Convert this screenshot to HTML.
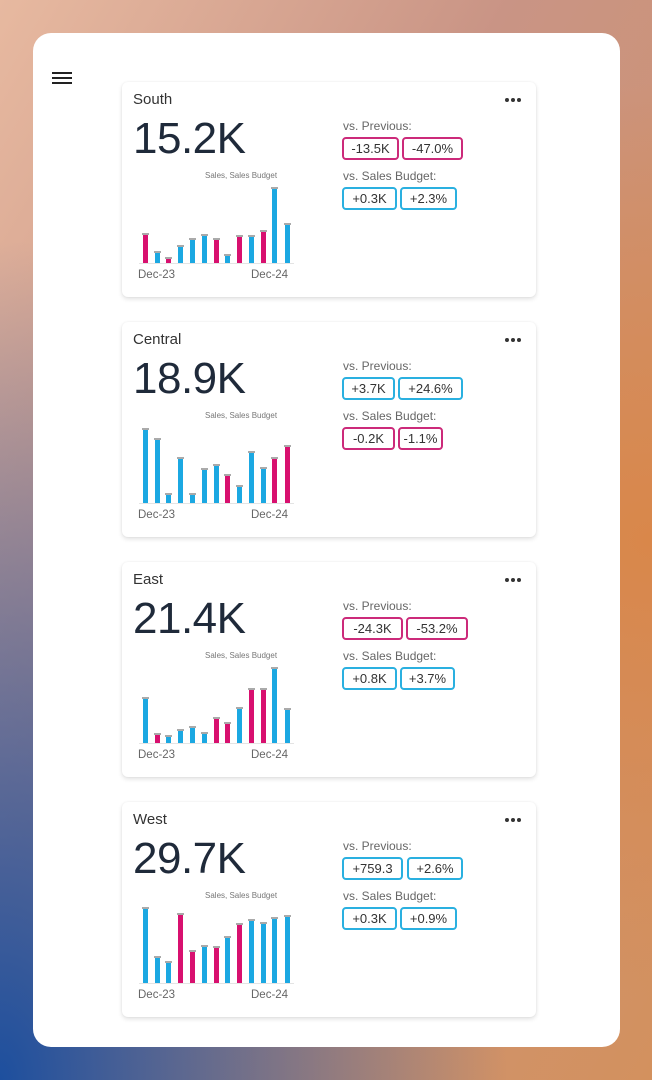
<!DOCTYPE html>
<html><head><style>
*{margin:0;padding:0;box-sizing:border-box}
body{width:652px;height:1080px;overflow:hidden;position:relative;font-family:"Liberation Sans",sans-serif;
background:radial-gradient(ellipse at 100% 50%,#d9874a 0%,rgba(217,135,74,0) 60%),radial-gradient(ellipse at 0% 100%,#1d4f9e 0%,rgba(29,79,158,0) 55%),linear-gradient(120deg,#e7b9a0 0%,#c99485 40%,#d3915e 100%);}
.panel{position:absolute;left:33px;top:33px;width:587px;height:1014px;background:#fff;border-radius:18px}
.ham{position:absolute;left:52px;top:72px;width:20px;height:2px;background:#222;box-shadow:0 5px 0 #222,0 10px 0 #222}
.card{position:absolute;left:122px;width:414px;height:215px;background:#fff;border-radius:6px;box-shadow:0 2px 5px rgba(0,0,0,.12),0 0 2px rgba(0,0,0,.06)}
.t{position:absolute;left:11px;top:9px;font-size:15px;color:#333}
.big{position:absolute;left:11px;top:32px;font-size:44px;color:#1f2a3a;letter-spacing:-0.5px}
.dots{position:absolute;left:383px;top:16px;width:18px;height:4px}
.dots i{position:absolute;top:0;width:4px;height:4px;border-radius:50%;background:#333}
.lbl{position:absolute;left:221px;font-size:12px;color:#666}
.b{position:absolute;height:23px;border:2px solid;border-radius:4px;font-size:13px;color:#333;text-align:center;line-height:19px}
.p{border-color:#cc2a7a}.c{border-color:#2ab0e0}
.sl{position:absolute;left:83px;top:89px;font-size:8px;color:#777}
.x{position:absolute;top:187px;font-size:11.5px;color:#666}
svg{position:absolute;left:0;top:0}
</style></head><body>
<div class="panel"></div><div class="ham"></div>

<div class="card" style="top:82px"><div class="t">South</div><div class="big">15.2K</div><div class="dots"><i style="left:0"></i><i style="left:6px"></i><i style="left:12px"></i></div>
<div class="lbl" style="top:37px">vs. Previous:</div><div class="b p" style="left:220px;top:55px;width:57px">-13.5K</div><div class="b p" style="left:280px;top:55px;width:61px">-47.0%</div>
<div class="lbl" style="top:87px">vs. Sales Budget:</div><div class="b c" style="left:220px;top:105px;width:55px">+0.3K</div><div class="b c" style="left:278px;top:105px;width:57px">+2.3%</div>
<div class="sl">Sales, Sales Budget</div><div class="x" style="left:16px">Dec-23</div><div class="x" style="left:129px">Dec-24</div>
<svg width="414" height="215" id="s1"></svg></div>

<div class="card" style="top:322px"><div class="t">Central</div><div class="big">18.9K</div><div class="dots"><i style="left:0"></i><i style="left:6px"></i><i style="left:12px"></i></div>
<div class="lbl" style="top:37px">vs. Previous:</div><div class="b c" style="left:220px;top:55px;width:53px">+3.7K</div><div class="b c" style="left:276px;top:55px;width:65px">+24.6%</div>
<div class="lbl" style="top:87px">vs. Sales Budget:</div><div class="b p" style="left:220px;top:105px;width:53px">-0.2K</div><div class="b p" style="left:276px;top:105px;width:45px">-1.1%</div>
<div class="sl">Sales, Sales Budget</div><div class="x" style="left:16px">Dec-23</div><div class="x" style="left:129px">Dec-24</div>
<svg width="414" height="215" id="s2"></svg></div>

<div class="card" style="top:562px"><div class="t">East</div><div class="big">21.4K</div><div class="dots"><i style="left:0"></i><i style="left:6px"></i><i style="left:12px"></i></div>
<div class="lbl" style="top:37px">vs. Previous:</div><div class="b p" style="left:220px;top:55px;width:61px">-24.3K</div><div class="b p" style="left:284px;top:55px;width:62px">-53.2%</div>
<div class="lbl" style="top:87px">vs. Sales Budget:</div><div class="b c" style="left:220px;top:105px;width:55px">+0.8K</div><div class="b c" style="left:278px;top:105px;width:55px">+3.7%</div>
<div class="sl">Sales, Sales Budget</div><div class="x" style="left:16px">Dec-23</div><div class="x" style="left:129px">Dec-24</div>
<svg width="414" height="215" id="s3"></svg></div>

<div class="card" style="top:802px"><div class="t">West</div><div class="big">29.7K</div><div class="dots"><i style="left:0"></i><i style="left:6px"></i><i style="left:12px"></i></div>
<div class="lbl" style="top:37px">vs. Previous:</div><div class="b c" style="left:220px;top:55px;width:61px">+759.3</div><div class="b c" style="left:285px;top:55px;width:56px">+2.6%</div>
<div class="lbl" style="top:87px">vs. Sales Budget:</div><div class="b c" style="left:220px;top:105px;width:55px">+0.3K</div><div class="b c" style="left:278px;top:105px;width:57px">+0.9%</div>
<div class="sl">Sales, Sales Budget</div><div class="x" style="left:16px">Dec-23</div><div class="x" style="left:129px">Dec-24</div>
<svg width="414" height="215" id="s4"></svg></div>

<script>
var xs=[145,157,168,180,192,204,216,227,239,251,263,274,287];
var D=[
["s1",82,263,[234,252,258,246,239,235,239,255,236,236,231,188,224],"pbpbbbpbpbpbb"],
["s2",322,503,[429,439,494,458,494,469,465,475,486,452,468,458,446],"bbbbbbbpbbbpp"],
["s3",562,743,[698,734,736,730,727,733,718,723,708,689,689,668,709],"bpbbbbppbppbb"],
["s4",802,983,[908,957,962,914,951,946,947,937,924,920,923,918,916],"bbbppbpbpbbbb"]];
D.forEach(function(d){var s='',o=d[1];
s+='<line x1="17" x2="172" y1="'+(d[2]-o+0.5)+'" y2="'+(d[2]-o+0.5)+'" stroke="#e4e4e4"/>';
d[3].forEach(function(t,i){var x=xs[i]-122-2,c=d[4][i]=='p'?'#d8106f':'#1ba8e2';
s+='<rect x="'+x+'" y="'+(t-o)+'" width="5" height="'+(d[2]-t)+'" fill="'+c+'"/>';
s+='<rect x="'+(x-1)+'" y="'+(t-o-1)+'" width="7" height="2" fill="#aaa"/>';});
document.getElementById(d[0]).innerHTML=s;});
</script>
</body></html>
